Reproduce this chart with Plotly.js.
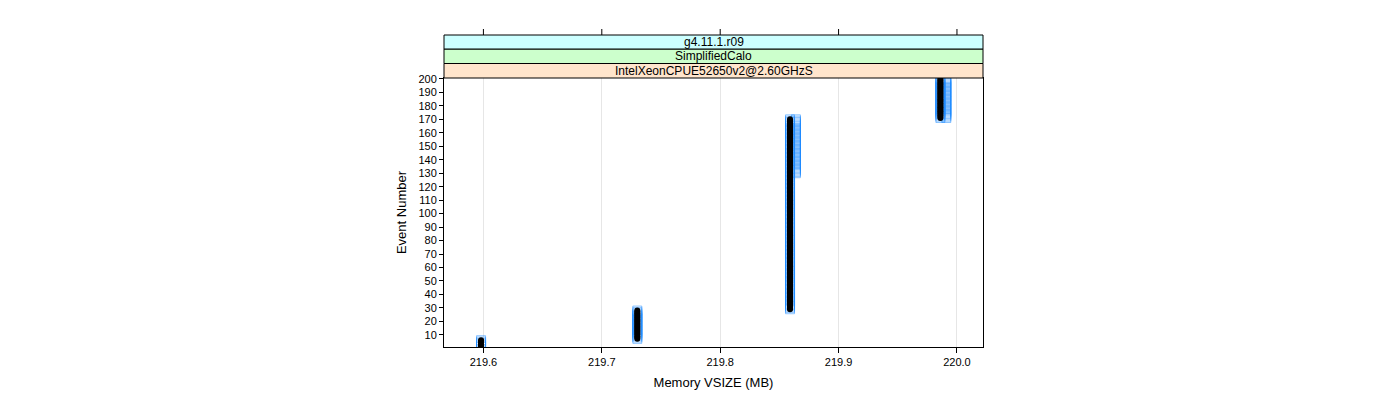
<!DOCTYPE html>
<html>
<head>
<meta charset="utf-8">
<script src="https://cdn.plot.ly/plotly-3.0.1.min.js"></script>
<style>html,body{margin:0;padding:0;background:#fff;}#chart{width:1400px;height:400px;}</style>
</head>
<body>
<div id="chart"></div>
<script>
// Event numbers
const events = [
  1,2,3,4,5,6,7,8,9,10,11,12,13,14,15,16,17,18,19,20,
  21,22,23,24,25,26,27,28,29,30,31,32,33,34,35,36,37,38,39,40,
  41,42,43,44,45,46,47,48,49,50,51,52,53,54,55,56,57,58,59,60,
  61,62,63,64,65,66,67,68,69,70,71,72,73,74,75,76,77,78,79,80,
  81,82,83,84,85,86,87,88,89,90,91,92,93,94,95,96,97,98,99,100,
  101,102,103,104,105,106,107,108,109,110,111,112,113,114,115,116,117,118,119,120,
  121,122,123,124,125,126,127,128,129,130,131,132,133,134,135,136,137,138,139,140,
  141,142,143,144,145,146,147,148,149,150,151,152,153,154,155,156,157,158,159,160,
  161,162,163,164,165,166,167,168,169,170,171,172,173,174,175,176,177,178,179,180,
  181,182,183,184,185,186,187,188,189,190,191,192,193,194,195,196,197,198,199,200
];
// Memory VSIZE (MB) per event
const vsize = [
  219.598,219.598,219.598,219.598,219.598,219.598,219.730,219.730,219.730,219.730,
  219.730,219.730,219.730,219.730,219.730,219.730,219.730,219.730,219.730,219.730,
  219.730,219.730,219.730,219.730,219.730,219.730,219.730,219.730,219.859,219.859,
  219.859,219.859,219.859,219.859,219.859,219.859,219.859,219.859,219.859,219.859,
  219.859,219.859,219.859,219.859,219.859,219.859,219.859,219.859,219.859,219.859,
  219.859,219.859,219.859,219.859,219.859,219.859,219.859,219.859,219.859,219.859,
  219.859,219.859,219.859,219.859,219.859,219.859,219.859,219.859,219.859,219.859,
  219.859,219.859,219.859,219.859,219.859,219.859,219.859,219.859,219.859,219.859,
  219.859,219.859,219.859,219.859,219.859,219.859,219.859,219.859,219.859,219.859,
  219.859,219.859,219.859,219.859,219.859,219.859,219.859,219.859,219.859,219.859,
  219.859,219.859,219.859,219.859,219.859,219.859,219.859,219.859,219.859,219.859,
  219.859,219.859,219.859,219.859,219.859,219.859,219.859,219.859,219.859,219.859,
  219.859,219.859,219.859,219.859,219.859,219.859,219.859,219.859,219.859,219.859,
  219.859,219.859,219.859,219.859,219.859,219.859,219.859,219.859,219.859,219.859,
  219.859,219.859,219.859,219.859,219.859,219.859,219.859,219.859,219.859,219.859,
  219.859,219.859,219.859,219.859,219.859,219.859,219.859,219.859,219.859,219.859,
  219.859,219.859,219.859,219.859,219.859,219.859,219.859,219.859,219.859,219.859,
  219.986,219.986,219.986,219.986,219.986,219.986,219.986,219.986,219.986,219.986,
  219.986,219.986,219.986,219.986,219.986,219.986,219.986,219.986,219.986,219.986,
  219.986,219.986,219.986,219.986,219.986,219.986,219.986,219.986,219.986,219.986
];
// Second (blue) replicate, offset values for events 130-200
const blueEvents = [
  130,131,132,133,134,135,136,137,138,139,140,141,142,143,144,145,146,147,148,149,150,
  151,152,153,154,155,156,157,158,159,160,161,162,163,164,165,166,167,168,169,170,
  171,172,173,174,175,176,177,178,179,180,181,182,183,184,185,186,187,188,189,190,
  191,192,193,194,195,196,197,198,199,200
];
const blueVsize = [
  219.864,219.864,219.864,219.864,219.864,219.864,219.864,219.864,219.864,219.864,219.864,
  219.864,219.864,219.864,219.864,219.864,219.864,219.864,219.864,219.864,219.864,
  219.864,219.864,219.864,219.864,219.864,219.864,219.864,219.864,219.864,219.864,
  219.864,219.864,219.864,219.864,219.864,219.864,219.864,219.864,219.864,219.864,
  219.991,219.991,219.991,219.991,219.991,219.991,219.991,219.991,219.991,219.991,
  219.991,219.991,219.991,219.991,219.991,219.991,219.991,219.991,219.991,219.991,
  219.991,219.991,219.991,219.991,219.991,219.991,219.991,219.991,219.991,219.991
];
const xTickVals = [219.6, 219.7, 219.8, 219.9, 220.0];
const xTickText = ['219.6', '219.7', '219.8', '219.9', '220.0'];
const yTickVals = [10,20,30,40,50,60,70,80,90,100,110,120,130,140,150,160,170,180,190,200];
const stripLabels = ['IntelXeonCPUE52650v2@2.60GHzS', 'SimplifiedCalo', 'g4.11.1.r09'];
const stripColors = ['#ffe5cc', '#ccffcc', '#ccffff'];

const FONT = 'Liberation Sans, Arial, sans-serif';
const plotH = 269;
const stripH = [14.5 / plotH, 14.5 / plotH, 14 / plotH];

const shapes = [];
const annotations = [];
let y0 = 1;
for (let i = 0; i < stripLabels.length; i++) {
  const y1 = y0 + stripH[i];
  shapes.push({type: 'rect', xref: 'paper', yref: 'paper', x0: 0, x1: 1, y0: y0, y1: y1,
    fillcolor: stripColors[i], line: {color: '#000', width: 1}, layer: 'above'});
  annotations.push({xref: 'paper', yref: 'paper', x: 0.5, y: (y0 + y1) / 2, text: stripLabels[i],
    showarrow: false, xanchor: 'center', yanchor: 'middle', font: {family: FONT, size: 12, color: '#000'}});
  y0 = y1;
}
// top tick marks above strips
for (const v of xTickVals) {
  shapes.push({type: 'line', xref: 'x', yref: 'paper', x0: v, x1: v, y0: y0, y1: y0 + 6 / plotH,
    line: {color: '#000', width: 1}});
}

const blueMarker = {symbol: 'square-open', size: 9, color: 'rgba(30,140,255,0.5)', line: {width: 1}};
const traces = [
  {x: vsize, y: events, type: 'scatter', mode: 'markers', hoverinfo: 'skip', marker: blueMarker},
  {x: blueVsize, y: blueEvents, type: 'scatter', mode: 'markers', hoverinfo: 'skip', marker: blueMarker},
  {x: vsize, y: events, type: 'scatter', mode: 'markers', hoverinfo: 'skip',
   marker: {symbol: 'circle', size: 6, color: '#000'}}
];

const layout = {
  width: 1400, height: 400,
  margin: {l: 444, r: 417, t: 78, b: 53, pad: 0},
  paper_bgcolor: '#fff', plot_bgcolor: '#fff',
  showlegend: false,
  font: {family: FONT, size: 11, color: '#000'},
  xaxis: {
    range: [219.5667, 220.022], tickmode: 'array', tickvals: xTickVals, ticktext: xTickText,
    ticks: 'outside', ticklen: 5, tickcolor: '#000', showgrid: true, gridcolor: '#e6e6e6', gridwidth: 1,
    zeroline: false, showline: true, linecolor: '#000', linewidth: 1, mirror: true,
    tickfont: {family: FONT, size: 11, color: '#000'},
    title: {text: 'Memory VSIZE (MB)', font: {family: FONT, size: 13, color: '#000'}, standoff: 10}
  },
  yaxis: {
    range: [0.95, 200.7], tickmode: 'array', tickvals: yTickVals,
    ticks: 'outside', ticklen: 4, tickcolor: '#000', showgrid: false,
    zeroline: false, showline: true, linecolor: '#000', linewidth: 1, mirror: true,
    tickfont: {family: FONT, size: 11, color: '#000'},
    title: {text: 'Event Number', font: {family: FONT, size: 13, color: '#000'}, standoff: 8}
  },
  shapes: shapes,
  annotations: annotations
};

Plotly.newPlot('chart', traces, layout, {staticPlot: true, displayModeBar: false});
</script>
</body>
</html>
